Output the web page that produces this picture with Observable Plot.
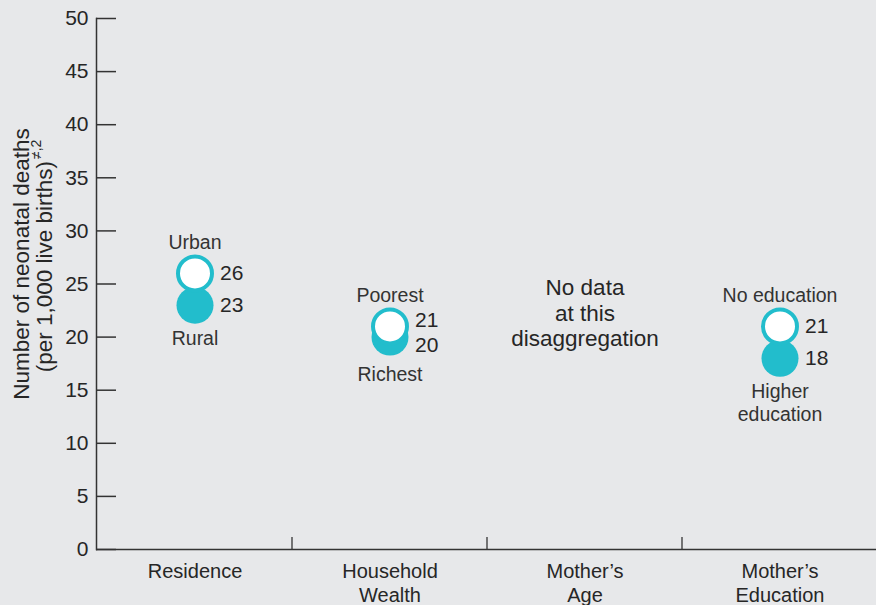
<!DOCTYPE html>
<html>
<head>
<meta charset="utf-8">
<script src="https://cdn.jsdelivr.net/npm/d3@7"></script>
<script src="https://cdn.jsdelivr.net/npm/@observablehq/plot@0.6"></script>
<style>
  html, body { margin: 0; padding: 0; background: #e7e8ea; }
  #chart { width: 876px; height: 605px; overflow: hidden; }
</style>
</head>
<body>
<div id="chart"></div>
<script>
// ---- data ----
const categories = ["Residence", "Household\nWealth", "Mother’s\nAge", "Mother’s\nEducation"];
const topLabels = ["Urban", "Poorest", null, "No education"];
const topValues = [26, 21, null, 21];
const bottomLabels = ["Rural", "Richest", null, "Higher\neducation"];
const bottomValues = [23, 20, null, 18];
const noDataText = "No data\nat this\ndisaggregation";
const noDataCategory = "Mother’s\nAge";
const noDataY = 22.3;
const yTicks = [0, 5, 10, 15, 20, 25, 30, 35, 40, 45, 50];
const yLabelLine1 = "Number of neonatal deaths";
const yLabelLine2 = "(per 1,000 live births)";
const yLabelSup = "≠,2";

// ---- tables ----
const topPts = [], bottomPts = [];
categories.forEach((c, i) => {
  if (topValues[i] != null) topPts.push({cat: c, value: topValues[i], label: topLabels[i], other: bottomValues[i], pos: "top"});
  if (bottomValues[i] != null) bottomPts.push({cat: c, value: bottomValues[i], label: bottomLabels[i], other: topValues[i], pos: "bottom"});
});
const isClose = d => Math.abs(d.value - d.other) < 2;
// nudge value labels apart when the two values are very close
const labelY = d => {
  if (!isClose(d)) return d.value;
  return d.pos === "top" ? d.value + 0.55 : d.value - 0.75;
};

const teal = "#22bdcc";
const ink = "#262626";
const font = "'Liberation Sans', Arial, sans-serif";

const chart = Plot.plot({
  width: 876,
  height: 605,
  marginTop: 18,
  marginBottom: 56,
  marginLeft: 96,
  marginRight: 0,
  style: {background: "#e7e8ea", fontFamily: font, color: ink},
  x: {type: "band", domain: categories, range: [96, 878], padding: 0, align: 0.5, axis: null},
  y: {domain: [0, 50], axis: null},
  marks: [
    Plot.ruleY(yTicks, {stroke: "#333", strokeWidth: 1.5, insetRight: 760}),
    Plot.axisY({ticks: yTicks, tickSize: 0, tickPadding: 8, fontSize: 21, label: null, fill: ink}),
    Plot.ruleY([0], {stroke: "#333", strokeWidth: 1.5}),
    Plot.frame({anchor: "left", stroke: "#333", strokeWidth: 1.5}),
    (index, scales) => {
      const g = d3.create("svg:g");
      categories.slice(1).forEach(c => {
        const xp = scales.x(c);
        g.append("line")
          .attr("x1", xp).attr("x2", xp)
          .attr("y1", scales.y(0)).attr("y2", scales.y(0) - 12)
          .attr("stroke", "#333").attr("stroke-width", 1.3);
      });
      return g.node();
    },
    Plot.dot(bottomPts, {x: "cat", y: "value", r: 18.5, fill: teal}),
    Plot.dot(topPts, {x: "cat", y: "value", r: 17, fill: "white", stroke: teal, strokeWidth: 4}),
    Plot.text(topPts.concat(bottomPts), {x: "cat", y: labelY, text: d => String(d.value), textAnchor: "start", dx: 25, fontSize: 21, fill: ink}),
    Plot.text(topPts, {x: "cat", y: "value", text: "label", lineAnchor: "bottom", dy: -24, fontSize: 19.5, lineHeight: 1.18, fill: "#333"}),
    Plot.text(bottomPts.filter(d => !isClose(d)), {x: "cat", y: "value", text: "label", lineAnchor: "top", dy: 23, fontSize: 19.5, lineHeight: 1.18, fill: "#333"}),
    Plot.text(bottomPts.filter(isClose), {x: "cat", y: "value", text: "label", lineAnchor: "top", dy: 28, fontSize: 19.5, lineHeight: 1.18, fill: "#333"}),
    Plot.text([noDataText], {x: () => noDataCategory, y: () => noDataY, text: d => d, fontSize: 22.5, lineHeight: 1.13, fill: ink}),
    Plot.text(categories, {x: d => d, text: d => d, frameAnchor: "bottom", lineAnchor: "top", dy: 11, fontSize: 20, lineHeight: 1.2, fill: ink})
  ]
});

// axis title with superscript
const svg = d3.select(chart);
const yl = svg.append("g").attr("font-family", font).attr("fill", ink).attr("font-size", 22.5);
yl.append("text")
  .attr("transform", "translate(21,264) rotate(-90)")
  .attr("text-anchor", "middle").attr("dominant-baseline", "central")
  .text(yLabelLine1);
const t2 = yl.append("text")
  .attr("transform", "translate(44,256) rotate(-90)")
  .attr("text-anchor", "middle").attr("dominant-baseline", "central");
t2.append("tspan").text(yLabelLine2);
t2.append("tspan").attr("font-size", 14).attr("dy", -8).attr("dx", 2).text(yLabelSup);

document.getElementById("chart").appendChild(chart);
</script>
</body>
</html>
